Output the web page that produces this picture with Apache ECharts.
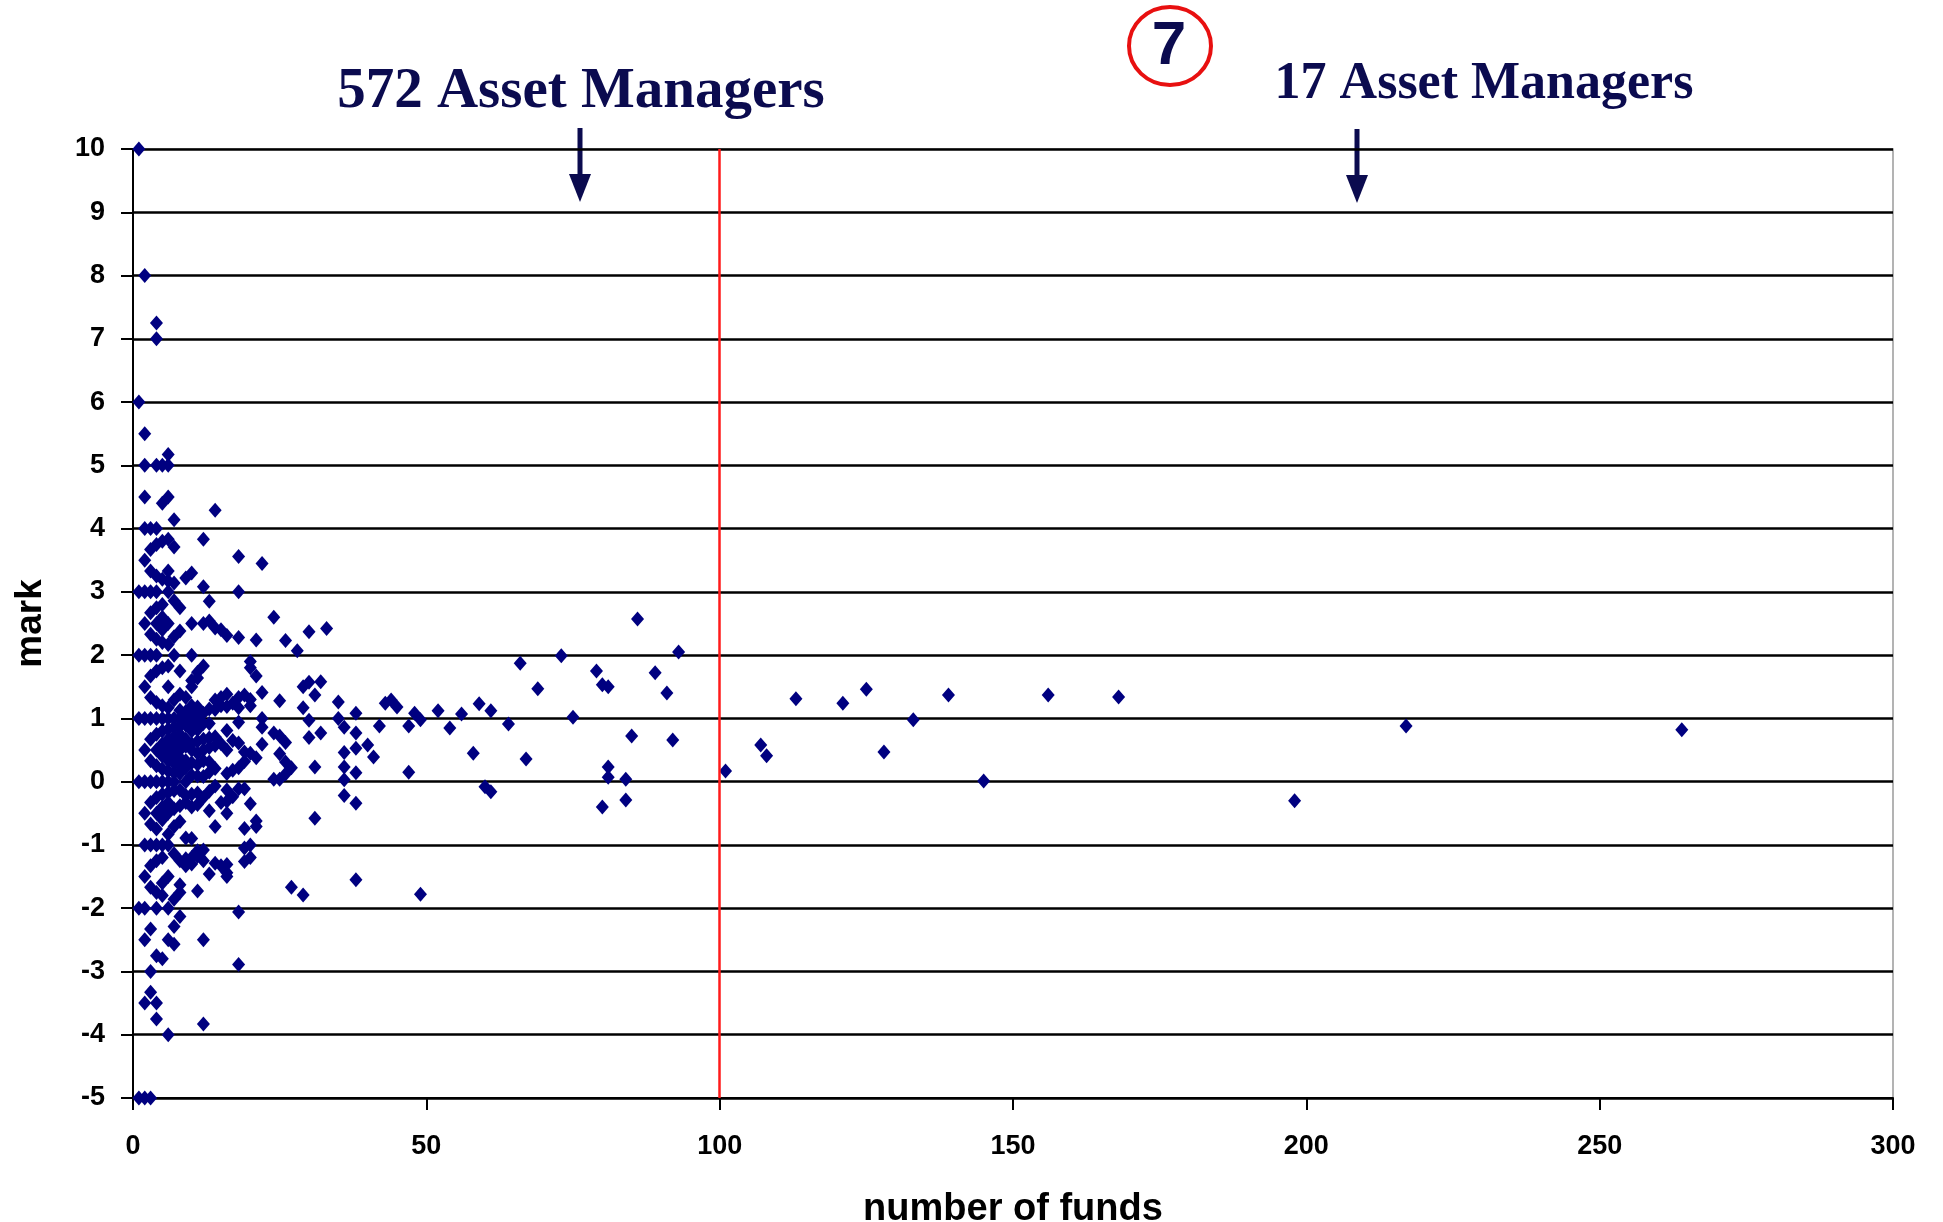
<!DOCTYPE html>
<html>
<head>
<meta charset="utf-8">
<title>mark vs number of funds</title>
<script src="https://cdn.jsdelivr.net/npm/echarts@6/dist/echarts.min.js"></script>
<style>
  html, body { margin: 0; padding: 0; background: #fff; }
  #chart { width: 1943px; height: 1222px; }
</style>
</head>
<body>
<div id="chart"></div>
<script>
// [number of funds, mark] per asset manager
const managersUpTo14 = [
  [1,10],[1,6],[1,3],[1,2],[1,1],[1,0],[1,-2],[1,-5],
  [2,8],[2,5.5],[2,5],[2,4.5],[2,4],[2,3.5],[2,3],[2,2.5],[2,2],[2,1.5],[2,1],[2,0.5],[2,0],[2,-0.5],[2,-1],[2,-1.5],[2,-2],[2,-2.5],[2,-3.5],[2,-5],
  [3,4],[3,3.67],[3,3.33],[3,3],[3,2.67],[3,2.33],[3,2],[3,1.67],[3,1.33],[3,1],[3,0.67],[3,0.33],[3,0],[3,-0.33],[3,-0.67],[3,-1],[3,-1.33],[3,-1.67],[3,-2.33],[3,-3],[3,-3.33],[3,-5],
  [4,7.25],[4,7],[4,5],[4,4],[4,3.75],[4,3.25],[4,3],[4,2.75],[4,2.5],[4,2.25],[4,2],[4,1.75],[4,1.25],[4,1],[4,0.75],[4,0.5],[4,0.25],[4,0],[4,-0.25],[4,-0.5],[4,-0.75],[4,-1],[4,-1.25],[4,-1.75],[4,-2],[4,-2.75],[4,-3.5],[4,-3.75],
  [5,5],[5,4.4],[5,3.8],[5,3.2],[5,2.8],[5,2.6],[5,2.4],[5,2.2],[5,1.8],[5,1.2],[5,1],[5,0.8],[5,0.6],[5,0.4],[5,0.2],[5,0],[5,-0.2],[5,-0.4],[5,-0.6],[5,-1],[5,-1.2],[5,-1.6],[5,-1.8],[5,-2.8],
  [6,5.17],[6,5],[6,4.5],[6,3.83],[6,3.33],[6,3.17],[6,3],[6,2.5],[6,2.17],[6,1.83],[6,1.5],[6,1.17],[6,1],[6,0.83],[6,0.67],[6,0.5],[6,0.33],[6,0.17],[6,0],[6,-0.17],[6,-0.33],[6,-0.5],[6,-0.83],[6,-1],[6,-1.5],[6,-2],[6,-2.5],[6,-4],
  [7,4.14],[7,3.71],[7,3.14],[7,2.86],[7,2.29],[7,2],[7,1.29],[7,1],[7,0.86],[7,0.71],[7,0.57],[7,0.43],[7,0.29],[7,0.14],[7,0],[7,-0.14],[7,-0.43],[7,-0.71],[7,-1.14],[7,-1.86],[7,-2.29],[7,-2.57],
  [8,2.75],[8,2.38],[8,1.75],[8,1.38],[8,1.13],[8,1],[8,0.88],[8,0.75],[8,0.63],[8,0.5],[8,0.38],[8,0.25],[8,0.13],[8,-0.13],[8,-0.38],[8,-0.63],[8,-1.25],[8,-1.63],[8,-1.75],[8,-2.13],
  [9,3.22],[9,1.33],[9,1.11],[9,1],[9,0.89],[9,0.67],[9,0.56],[9,0.33],[9,0.22],[9,0],[9,-0.22],[9,-0.33],[9,-0.89],[9,-1.22],[9,-1.33],
  [10,3.3],[10,2.5],[10,2],[10,1.6],[10,1.5],[10,1.2],[10,1.1],[10,0.9],[10,0.8],[10,0.6],[10,0.5],[10,0.3],[10,0.1],[10,-0.2],[10,-0.4],[10,-0.9],[10,-1.2],[10,-1.3],
  [11,1.73],[11,1.64],[11,1.18],[11,1],[11,0.82],[11,0.64],[11,0.45],[11,0.27],[11,0.09],[11,-0.18],[11,-0.36],[11,-1.09],[11,-1.18],[11,-1.73],
  [12,3.83],[12,3.08],[12,2.5],[12,1.83],[12,1.08],[12,0.92],[12,0.67],[12,0.5],[12,0.33],[12,0.08],[12,-0.25],[12,-1.08],[12,-1.25],[12,-2.5],[12,-3.83],
  [13,2.85],[13,2.54],[13,1.15],[13,0.92],[13,0.69],[13,0.54],[13,0.31],[13,0.15],[13,-0.15],[13,-0.46],[13,-1.46],
  [14,4.29],[14,2.43],[14,1.29],[14,1.14],[14,0.71],[14,0.57],[14,0.21],[14,-0.07],[14,-0.71],[14,-1.29]
]

const managers15to49 = [
  [15,2.4],[15,1.33],[15,1.2],[15,0.6],[15,-0.33],[15,-1.33],
  [16,2.31],[16,1.38],[16,1.19],[16,0.81],[16,0.5],[16,0.13],[16,-0.13],[16,-0.31],[16,-0.5],[16,-1.31],[16,-1.44],[16,-1.5],
  [17,1.24],[17,0.65],[17,0.18],[17,-0.24],
  [18,3.56],[18,3],[18,2.28],[18,1.33],[18,1.17],[18,0.94],[18,0.61],[18,0.22],[18,-0.11],[18,-2.06],[18,-2.89],
  [19,1.37],[19,0.47],[19,0.32],[19,-0.11],[19,-0.74],[19,-1.05],[19,-1.26],
  [20,1.9],[20,1.8],[20,1.3],[20,1.2],[20,0.45],[20,-0.35],[20,-1],[20,-1.2],
  [21,2.24],[21,1.67],[21,0.38],[21,-0.62],[21,-0.71],
  [22,3.45],[22,1.41],[22,1],[22,0.86],[22,0.59],
  [24,2.6],[24,0.77],[24,0.04],
  [25,1.28],[25,0.72],[25,0.44],[25,0.04],
  [26,2.23],[26,0.62],[26,0.31],[26,0.12],
  [27,0.22],[27,-1.67],
  [28,2.07],
  [29,1.5],[29,1.17],[29,-1.79],
  [30,2.37],[30,1.57],[30,0.97],[30,0.7],
  [31,1.37],[31,0.23],[31,-0.58],
  [32,1.58],[32,0.77],
  [33,2.42],
  [35,1.26],[35,1],
  [36,0.86],[36,0.46],[36,0.23],[36,0.03],[36,-0.22],
  [38,1.08],[38,0.77],[38,0.53],[38,0.14],[38,-0.34],[38,-1.55],
  [40,0.58],[41,0.39],[42,0.88],
  [43,1.24],[44,1.29],[45,1.18],
  [47,0.88],[47,0.15],
  [48,1.08],[49,0.98],[49,-1.78]
]

const managers50to99 = [
  [52,1.12],[54,0.85],[56,1.07],[58,0.45],[59,1.23],[60,-0.08],[61,-0.16],[61,1.12],
  [64,0.91],[66,1.87],[67,0.36],[69,1.47],[73,1.99],[75,1.02],[79,1.75],[80,1.53],
  [81,1.5],[81,0.23],[81,0.07],[80,-0.4],[84,0.04],[84,-0.29],[85,0.72],[86,2.57],
  [89,1.72],[91,1.4],[92,0.66],[93,2.05]
]

const managers100plus = [
  [101,0.17],[107,0.58],[108,0.41],[113,1.31],[121,1.24],[125,1.46],[128,0.47],[133,0.98],
  [139,1.37],[145,0.01],[156,1.37],[168,1.34],[198,-0.3],[217,0.88],[264,0.82]
]

const fundTicks = { min: 0, max: 300, step: 50 }
const markTicks = { min: -5, max: 10, step: 1 }
const splitAtFunds = 100
const leftNote = '572 Asset Managers'
const rightNote = '17 Asset Managers'
const pageNumber = '7'

const NAVY = '#000080'
const INK = '#0b0b4f'
const AXIS_FONT = 'Liberation Sans'

const chart = echarts.init(document.getElementById('chart'))

// down arrow under each note
function arrow(x, yTop, yTip) {
  return [
    { type: 'rect', shape: { x: x - 2.5, y: yTop, width: 5, height: yTip - yTop - 20 }, style: { fill: INK } },
    { type: 'polygon', shape: { points: [[x - 11, yTip - 28], [x + 11, yTip - 28], [x, yTip]] }, style: { fill: INK } }
  ]
}

chart.setOption({
  backgroundColor: '#fff',
  animation: false,
  grid: {
    left: 133, top: 149, width: 1760, height: 949,
    outerBoundsMode: 'none',
    containLabel: false,
    show: true, borderColor: '#9a9a9a', borderWidth: 1.5, backgroundColor: '#fff'
  },
  xAxis: {
    type: 'value',
    min: fundTicks.min, max: fundTicks.max, interval: fundTicks.step,
    name: 'number of funds', nameLocation: 'middle', nameGap: 93,
    nameTextStyle: { fontFamily: AXIS_FONT, fontWeight: 'bold', fontSize: 38, color: '#000' },
    axisLine: { show: true, onZero: false, lineStyle: { color: '#000', width: 2 } },
    axisTick: { show: true, inside: false, length: 12, lineStyle: { color: '#000', width: 2 } },
    axisLabel: { margin: 35, fontFamily: AXIS_FONT, fontWeight: 'bold', fontSize: 27, color: '#000' },
    splitLine: { show: false }
  },
  yAxis: {
    type: 'value',
    min: markTicks.min, max: markTicks.max, interval: markTicks.step,
    name: 'mark', nameLocation: 'middle', nameGap: 84, nameRotate: 90,
    nameTextStyle: { fontFamily: AXIS_FONT, fontWeight: 'bold', fontSize: 37, color: '#000' },
    axisLine: { show: true, onZero: false, lineStyle: { color: '#000', width: 2 } },
    axisTick: { show: true, inside: false, length: 12, lineStyle: { color: '#000', width: 2 } },
    axisLabel: { margin: 28, fontFamily: AXIS_FONT, fontWeight: 'bold', fontSize: 27, color: '#000' },
    splitLine: { show: true, lineStyle: { color: '#000', width: 2.5 } }
  },
  series: [{
    type: 'scatter',
    symbol: 'diamond',
    symbolSize: [13, 15],
    itemStyle: { color: NAVY, opacity: 1 },
    data: [...managersUpTo14, ...managers15to49, ...managers50to99, ...managers100plus],
    markLine: {
      silent: true,
      symbol: ['none', 'none'],
      label: { show: false },
      lineStyle: { color: '#ff1a1a', width: 2.5, type: 'solid' },
      data: [{ xAxis: splitAtFunds }]
    },
    z: 3
  }],
  graphic: [
    {
      type: 'text', x: 581, y: 92,
      style: { text: leftNote, font: 'bold 57px "Liberation Serif"', fill: INK, align: 'center', verticalAlign: 'middle' }
    },
    {
      type: 'text', x: 1484, y: 85,
      style: { text: rightNote, font: 'bold 52px "Liberation Serif"', fill: INK, align: 'center', verticalAlign: 'middle' }
    },
    ...arrow(580, 128, 202),
    ...arrow(1357, 129, 203),
    {
      type: 'ellipse', shape: { cx: 1170, cy: 46, rx: 41, ry: 39 },
      style: { fill: 'none', stroke: '#e81010', lineWidth: 4 }
    },
    {
      type: 'text', x: 1169, y: 47,
      style: { text: pageNumber, font: 'bold 62px "Liberation Sans"', fill: INK, align: 'center', verticalAlign: 'middle' }
    }
  ]
})
</script>
</body>
</html>
